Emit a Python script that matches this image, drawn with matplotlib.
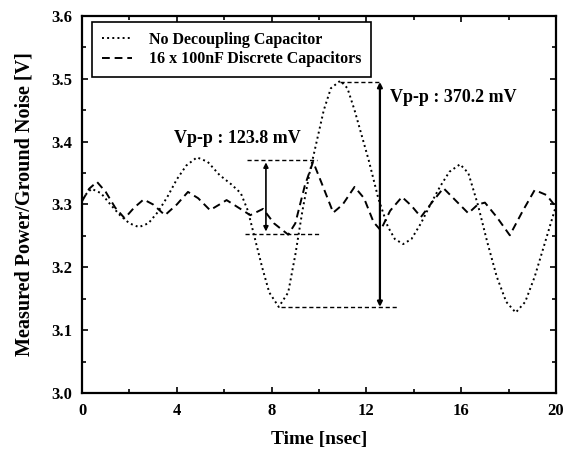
import numpy as np
import matplotlib
matplotlib.use('Agg')
import matplotlib.pyplot as plt
from matplotlib.ticker import MultipleLocator

plt.rcParams['font.family'] = 'Liberation Serif'
plt.rcParams['font.weight'] = 'bold'

# no decoupling capacitor (dotted)
t_nodec = [0.0, 0.4, 0.8, 1.2, 1.6, 2.0, 2.4, 2.8, 3.2, 3.6, 4.0, 4.4, 4.85, 5.3, 5.8,
           6.3, 6.7, 7.0, 7.3, 7.6, 7.9, 8.3, 8.7, 9.0, 9.3, 9.6, 9.9, 10.2, 10.5, 10.9,
           11.2, 11.5, 11.8, 12.1, 12.5, 12.9, 13.2, 13.55, 13.9, 14.3, 14.7, 15.1, 15.5,
           15.95, 16.3, 16.7, 17.1, 17.5, 17.9, 18.3, 18.7, 19.1, 19.5, 20.0]
v_nodec = [3.310, 3.325, 3.318, 3.300, 3.283, 3.270, 3.264, 3.270, 3.288, 3.312, 3.340,
           3.362, 3.375, 3.368, 3.347, 3.332, 3.318, 3.290, 3.245, 3.200, 3.160, 3.137,
           3.160, 3.220, 3.290, 3.350, 3.400, 3.450, 3.485, 3.497, 3.485, 3.450, 3.410,
           3.370, 3.310, 3.265, 3.245, 3.237, 3.245, 3.270, 3.300, 3.328, 3.352, 3.364,
           3.350, 3.300, 3.240, 3.185, 3.145, 3.128, 3.145, 3.185, 3.235, 3.298]

# 16 x 100nF discrete capacitors (dashed)
t_disc = [0.0, 0.3, 0.63, 1.0, 1.4, 1.8, 2.2, 2.6, 3.0, 3.5, 4.0, 4.47, 4.9, 5.4, 5.8,
          6.1, 6.6, 7.1, 7.64, 8.1, 8.7, 9.0, 9.4, 9.75, 10.1, 10.6, 11.0, 11.5, 11.9,
          12.3, 12.6, 13.0, 13.5, 13.9, 14.3, 14.8, 15.25, 15.8, 16.3, 16.7, 17.0, 17.5,
          18.05, 18.6, 19.1, 19.6, 20.0]
v_disc = [3.305, 3.325, 3.336, 3.320, 3.295, 3.278, 3.295, 3.308, 3.300, 3.283, 3.300,
          3.320, 3.310, 3.291, 3.300, 3.307, 3.295, 3.283, 3.293, 3.270, 3.252, 3.270,
          3.330, 3.368, 3.335, 3.287, 3.300, 3.328, 3.310, 3.272, 3.259, 3.290, 3.312,
          3.298, 3.280, 3.305, 3.326, 3.305, 3.286, 3.300, 3.303, 3.280, 3.251, 3.290,
          3.323, 3.315, 3.296]

# peak-to-peak annotations
vpp_small = (3.371, 3.253)
vpp_large = (3.495, 3.137)

fig = plt.figure(figsize=(5.68, 4.53), dpi=100)
ax = fig.add_axes([0.1444, 0.1325, 0.8345, 0.8322])

ax.plot(t_nodec, v_nodec, linestyle=':', color='black', lw=1.4,
        label='No Decoupling Capacitor')
ax.plot(t_disc, v_disc, linestyle='--', color='black', lw=1.4, dashes=(4, 2.5),
        label='16 x 100nF Discrete Capacitors')

# small Vp-p
ax.plot([6.96, 9.9], [vpp_small[0]] * 2, ls='--', color='black', lw=1.0, dashes=(3, 2))
ax.plot([6.88, 10.04], [vpp_small[1]] * 2, ls='--', color='black', lw=1.0, dashes=(3, 2))
ax.annotate('', xy=(7.76, vpp_small[0] - 0.004), xytext=(7.76, vpp_small[1] + 0.004),
            arrowprops=dict(arrowstyle='<|-|>', color='black', lw=1.2,
                            mutation_scale=7, shrinkA=0, shrinkB=0))
ax.text(3.9, 3.398, 'Vp-p : 123.8 mV', fontsize=13, fontweight='bold')

# large Vp-p
ax.plot([10.9, 12.6], [vpp_large[0]] * 2, ls='--', color='black', lw=1.0, dashes=(3, 2))
ax.plot([8.4, 13.3], [vpp_large[1]] * 2, ls='--', color='black', lw=1.0, dashes=(3, 2))
ax.annotate('', xy=(12.57, vpp_large[0]), xytext=(12.57, vpp_large[1]),
            arrowprops=dict(arrowstyle='<|-|>', color='black', lw=1.6,
                            mutation_scale=7, shrinkA=0, shrinkB=0))
ax.text(13.0, 3.463, 'Vp-p : 370.2 mV', fontsize=13, fontweight='bold')

ax.set_xlim(0, 20)
ax.set_ylim(3.0, 3.6)
ax.xaxis.set_major_locator(MultipleLocator(4))
ax.xaxis.set_minor_locator(MultipleLocator(2))
ax.yaxis.set_major_locator(MultipleLocator(0.1))
ax.yaxis.set_minor_locator(MultipleLocator(0.05))
ax.set_yticklabels(['%.1f' % v for v in ax.get_yticks()])
ax.tick_params(which='both', direction='in', top=True, right=True, labelsize=12,
               width=1.2)
ax.tick_params(which='major', length=4, pad=7)
ax.tick_params(which='minor', length=3)
for s in ax.spines.values():
    s.set_linewidth(1.6)

ax.set_xlabel('Time [nsec]', fontsize=14, fontweight='bold', labelpad=9)
ax.set_ylabel('Measured Power/Ground Noise [V]', fontsize=14.5, fontweight='bold', labelpad=12)

leg = ax.legend(loc='upper left', bbox_to_anchor=(0.021, 0.983), fancybox=False,
                edgecolor='black', framealpha=1, fontsize=11.5, handlelength=1.9,
                borderpad=0.6, labelspacing=0.2, borderaxespad=0, handletextpad=1.1)
leg.get_frame().set_linewidth(1.2)

plt.savefig('out.png', dpi=100)
